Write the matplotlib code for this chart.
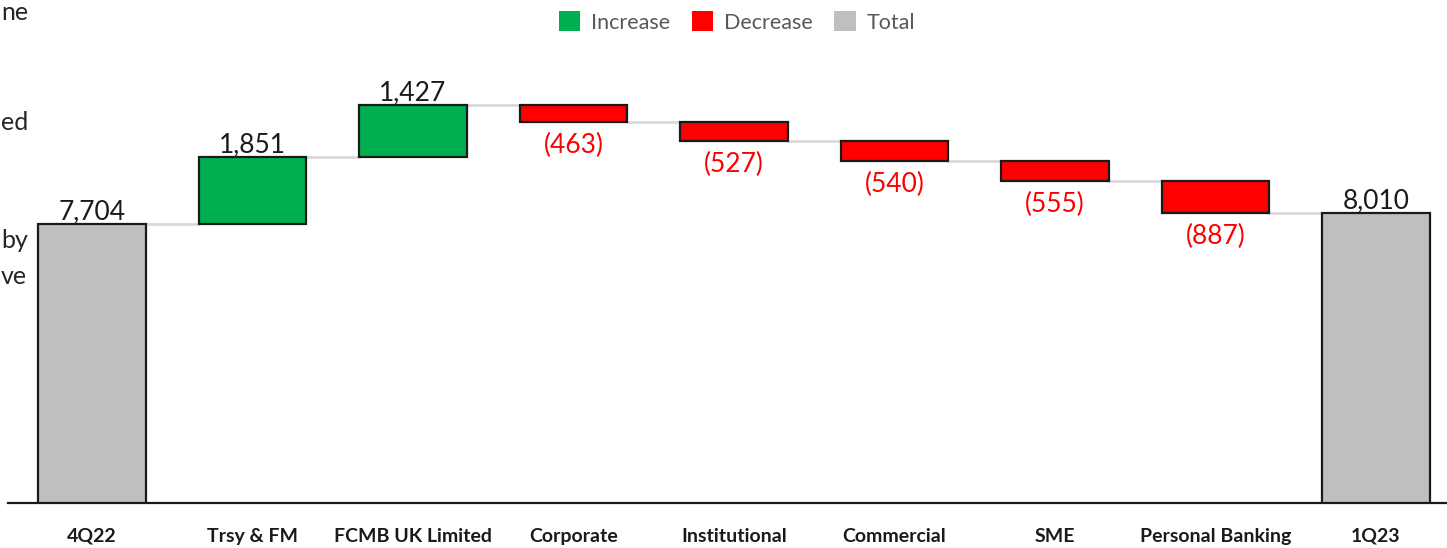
import numpy as np
import matplotlib.pyplot as plt
from matplotlib.patches import Patch

plt.rcParams['font.family'] = ['Lato', 'DejaVu Sans']

categories = ["4Q22", "Trsy & FM", "FCMB UK Limited", "Corporate", "Institutional",
              "Commercial", "SME", "Personal Banking", "1Q23"]
opening = 7704
changes = [1851, 1427, -463, -527, -540, -555, -887]
closing = 8010

GREEN = "#00B050"
RED = "#FF0000"
GREY = "#BFBFBF"

# running totals for the floating bars
levels = opening + np.concatenate([[0], np.cumsum(changes)])
bottoms = [0]
heights = [opening]
colors = [GREY]
for lvl_prev, ch in zip(levels[:-1], changes):
    bottoms.append(lvl_prev if ch >= 0 else lvl_prev + ch)
    heights.append(abs(ch))
    colors.append(GREEN if ch >= 0 else RED)
bottoms.append(0)
heights.append(closing)
colors.append(GREY)

W, H = 1447, 548
fig = plt.figure(figsize=(W / 100, H / 100), dpi=100)
ax = fig.add_axes([8 / W, (H - 503) / H, (W - 8) / W, 503 / H])

x = np.arange(len(categories))
bw = 0.667
ax.bar(x, heights, bottom=bottoms, width=bw, color=colors, edgecolor="#1a1a1a",
       linewidth=1.6, zorder=3)

# connector lines between consecutive bars
for i in range(len(categories) - 1):
    y = levels[i] if i < len(levels) else closing
    ax.plot([x[i] + bw / 2, x[i + 1] - bw / 2], [y, y], color="#D9D9D9", lw=2, zorder=2)

LABEL_FS = 19
# value labels
ax.annotate(f"{opening:,}", (x[0], opening), xytext=(0, 0), textcoords="offset points",
            ha="center", va="bottom", fontsize=LABEL_FS, color="#1a1a1a")
ax.annotate(f"{closing:,}", (x[-1], closing), xytext=(0, 0), textcoords="offset points",
            ha="center", va="bottom", fontsize=LABEL_FS, color="#1a1a1a")
for i, ch in enumerate(changes, start=1):
    if ch >= 0:
        ax.annotate(f"{ch:,}", (x[i], bottoms[i] + heights[i]), xytext=(0, 0),
                    textcoords="offset points", ha="center", va="bottom",
                    fontsize=LABEL_FS, color="#1a1a1a")
    else:
        ax.annotate(f"({abs(ch):,})", (x[i], bottoms[i]), xytext=(0, -8),
                    textcoords="offset points", ha="center", va="top",
                    fontsize=LABEL_FS, color=RED)

ax.set_xlim(-84 / 160.5, (W - 92) / 160.5)
ax.set_ylim(0, 503 / (279 / 7704))
ax.set_xticks(x)
ax.set_xticklabels(categories, fontsize=14, fontweight="bold", color="#1a1a1a")
ax.tick_params(axis="x", length=0, pad=18)
ax.set_yticks([])
for s in ["top", "left", "right"]:
    ax.spines[s].set_visible(False)
ax.spines["bottom"].set_linewidth(1.6)
ax.spines["bottom"].set_color("#1a1a1a")

handles = [Patch(facecolor=GREEN, label="Increase"),
           Patch(facecolor=RED, label="Decrease"),
           Patch(facecolor=GREY, label="Total")]
fig.legend(handles=handles, loc="center", bbox_to_anchor=(737 / W, 1 - 22 / H), ncol=3,
           frameon=False, fontsize=15.5, labelcolor="#595959", handlelength=1.0,
           handleheight=1.0, handletextpad=0.5, columnspacing=1.0)

# side text continuing from the neighbouring panel
for word, ypx in [("ne", 12), ("ed", 122), ("by", 240), ("ve", 277)]:
    fig.text(1 / W, 1 - ypx / H, word, ha="left", va="center", fontsize=18,
             color="#262626")

fig.savefig("out.png", dpi=100)
